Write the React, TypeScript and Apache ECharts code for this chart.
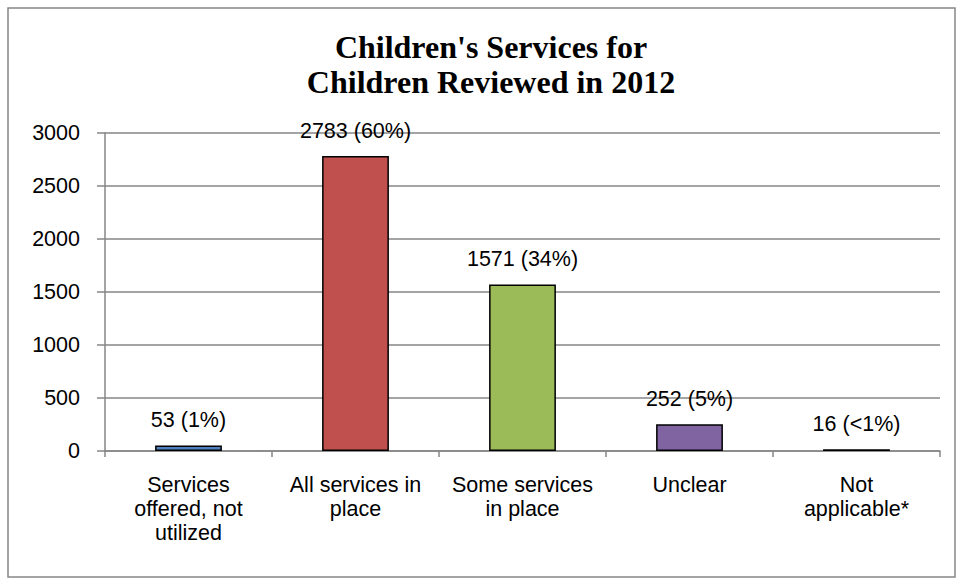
import React, { useEffect, useRef } from "react";
import * as echarts from "echarts";

const categories = [
  "Services\noffered, not\nutilized",
  "All services in\nplace",
  "Some services\nin place",
  "Unclear",
  "Not\napplicable*",
];
const values = [53, 2783, 1571, 252, 16];
const percentLabels = ["1%", "60%", "34%", "5%", "<1%"];
const barColors = ["#4F81BD", "#C0504D", "#9BBB59", "#8064A2", "#4BACC6"];
const yTicks = { min: 0, max: 3000, interval: 500 };
const titleText = "Children's Services for\nChildren Reviewed in 2012";

const FONT = "'Liberation Sans', Arial, sans-serif";
const FS = 21.5;

export default function App() {
  const ref = useRef<HTMLDivElement>(null);
  useEffect(() => {
    if (!ref.current) return;
    const chart = echarts.init(ref.current, null, { renderer: "svg" });
    chart.setOption({
      animation: false,
      backgroundColor: "#ffffff",
      title: {
        text: titleText,
        left: 486,
        top: 24,
        textAlign: "center",
        textStyle: {
          fontFamily: "'Liberation Serif', 'Times New Roman', serif",
          fontWeight: "bold",
          fontSize: 32,
          lineHeight: 35,
          color: "#000",
        },
      },
      graphic: [
        {
          type: "rect",
          shape: { x: 8, y: 8, width: 947, height: 569 },
          style: { fill: "none", stroke: "#868686", lineWidth: 1.5 },
          silent: true,
        },
      ],
      grid: { left: 105, right: 18, top: 133, bottom: 129, containLabel: false },
      xAxis: {
        type: "category",
        data: categories,
        axisLine: { show: true, lineStyle: { color: "#868686", width: 1.5 } },
        axisTick: { show: true, length: 6, lineStyle: { color: "#868686", width: 1.5 } },
        axisLabel: {
          interval: 0,
          margin: 22,
          fontFamily: FONT,
          fontSize: FS,
          lineHeight: 24,
          color: "#000",
        },
      },
      yAxis: {
        type: "value",
        min: yTicks.min,
        max: yTicks.max,
        interval: yTicks.interval,
        axisLine: { show: true, lineStyle: { color: "#868686", width: 1.5 } },
        axisTick: { show: true, length: 8, lineStyle: { color: "#868686", width: 1.5 } },
        splitLine: { show: true, lineStyle: { color: "#868686", width: 1.5 } },
        axisLabel: {
          margin: 25,
          fontFamily: FONT,
          fontSize: FS,
          color: "#000",
          formatter: (v: number) => String(v),
        },
      },
      series: [
        {
          type: "bar",
          barWidth: "40%",
          data: values.map((v, i) => ({
            value: v,
            itemStyle: { color: barColors[i] },
          })),
          itemStyle: { borderColor: "#000", borderWidth: 1.5 },
          label: {
            show: true,
            position: "top",
            distance: 14,
            fontFamily: FONT,
            fontSize: FS,
            color: "#000",
            formatter: (p: any) => `${values[p.dataIndex]} (${percentLabels[p.dataIndex]})`,
          },
        },
      ],
    });
    return () => chart.dispose();
  }, []);
  return (
    <div
      ref={ref}
      style={{ position: "fixed", left: 0, top: 0, width: 958, height: 580 }}
    />
  );
}
